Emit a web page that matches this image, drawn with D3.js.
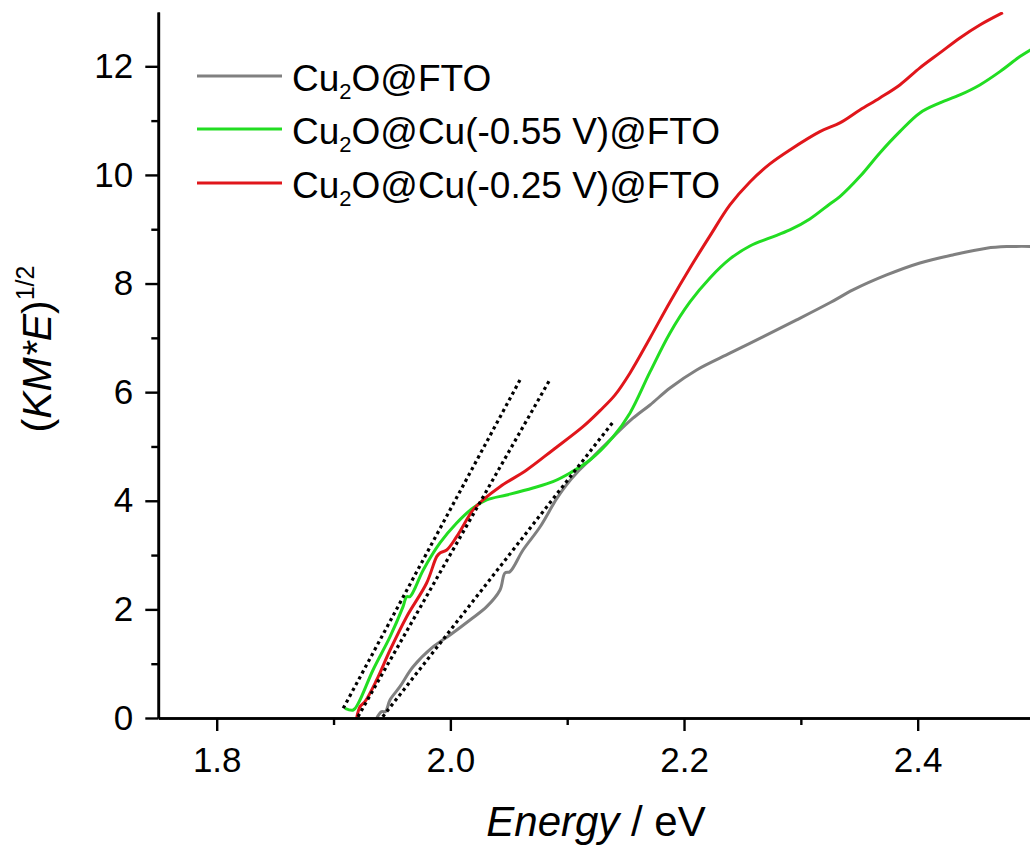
<!DOCTYPE html>
<meta charset="utf-8">
<html>
<head>
<script type="text/javascript" src="https://d3js.org/d3.v7.js"></script>
<style>
  body { margin: 0; background: #fff; }
  text { font-family: Arial, "Liberation Sans", sans-serif; fill: #000; }
</style>
</head>
<body>
<div id="plotArea"></div>
<script>
  // series names (the "2" after Cu is drawn as a subscript)
  const seriesNames = ['Cu2O@FTO', 'Cu2O@Cu(-0.55 V)@FTO', 'Cu2O@Cu(-0.25 V)@FTO']
  const seriesColors = ['#808080', '#22dd22', '#e0161b']

  // Cu2O@FTO
  const energyGray = [1.937, 1.9412, 1.9445, 1.9483, 1.9568, 1.9679, 1.9851, 1.9997, 2.0168, 2.0311, 2.0425, 2.0467, 2.0510, 2.0622, 2.0767, 2.0910, 2.0996, 2.1081, 2.1221, 2.1392, 2.1563, 2.1709, 2.1880, 2.2108, 2.2397, 2.2679, 2.2964, 2.3252, 2.3446, 2.3734, 2.4019, 2.4301, 2.4589, 2.4762, 2.4995]
  const kmGray = [0.0, 0.116, 0.12, 0.331, 0.576, 0.939, 1.308, 1.529, 1.805, 2.050, 2.357, 2.670, 2.694, 3.094, 3.517, 4.040, 4.300, 4.512, 4.807, 5.175, 5.520, 5.764, 6.077, 6.409, 6.722, 7.022, 7.330, 7.650, 7.882, 8.158, 8.379, 8.527, 8.650, 8.680, 8.683]

  // Cu2O@Cu(-0.55 V)@FTO
  const energyGreen = [1.9098, 1.9169, 1.9212, 1.9338, 1.9484, 1.9595, 1.9626, 1.9654, 1.9768, 1.9911, 2.0054, 2.0194, 2.0311, 2.0482, 2.0707, 2.0878, 2.1024, 2.1195, 2.1392, 2.1538, 2.1709, 2.1880, 2.2051, 2.2222, 2.2393, 2.2564, 2.2735, 2.2906, 2.3077, 2.3248, 2.3334, 2.3505, 2.3676, 2.3847, 2.4019, 2.4190, 2.4361, 2.4532, 2.4704, 2.4875, 2.4995]
  const kmGreen = [0.179, 0.147, 0.271, 0.884, 1.497, 2.050, 2.234, 2.234, 2.726, 3.223, 3.591, 3.867, 4.015, 4.107, 4.236, 4.352, 4.512, 4.751, 5.175, 5.617, 6.372, 7.090, 7.661, 8.103, 8.453, 8.692, 8.840, 8.987, 9.190, 9.466, 9.600, 9.969, 10.405, 10.797, 11.142, 11.326, 11.473, 11.657, 11.902, 12.179, 12.339]

  // Cu2O@Cu(-0.25 V)@FTO
  const energyRed = [1.9198, 1.9226, 1.9269, 1.9369, 1.9484, 1.9626, 1.9797, 1.9883, 1.9911, 1.9969, 2.0054, 2.0194, 2.0279, 2.0425, 2.0653, 2.0878, 2.1135, 2.1281, 2.1410, 2.1538, 2.1709, 2.1880, 2.2051, 2.2222, 2.2393, 2.2564, 2.2735, 2.2906, 2.3163, 2.3334, 2.3505, 2.3676, 2.3847, 2.4019, 2.4190, 2.4361, 2.4532, 2.4729]
  const kmRed = [0.0, 0.208, 0.300, 0.700, 1.252, 1.866, 2.486, 2.971, 3.039, 3.094, 3.339, 3.831, 4.015, 4.260, 4.567, 4.936, 5.365, 5.660, 5.950, 6.354, 6.998, 7.661, 8.287, 8.877, 9.448, 9.871, 10.203, 10.460, 10.797, 10.958, 11.197, 11.418, 11.657, 11.971, 12.247, 12.523, 12.762, 12.989]

  // dotted tangent lines (start / end)
  const tangentX1 = [1.9083, 1.9209, 1.9421]
  const tangentY1 = [0.179, 0.024, 0.024]
  const tangentX2 = [2.0596, 2.0847, 2.1395]
  const tangentY2 = [6.225, 6.212, 5.457]

  const xMajor = [1.8, 2.0, 2.2, 2.4]
  const xMinor = [1.9, 2.1, 2.3]
  const yMajor = [0, 2, 4, 6, 8, 10, 12]
  const yMinor = [1, 3, 5, 7, 9, 11]

  const W = 1030, H = 848

  const svg = d3.select('#plotArea').append('svg')
    .attr('width', W).attr('height', H)

  const xScale = d3.scaleLinear().domain([1.75, 2.5]).range([158.3, 1034.5])
  const yScale = d3.scaleLinear().domain([0, 13]).range([718, 12])

  svg.append('clipPath').attr('id', 'clip')
    .append('rect').attr('x', 158).attr('y', 12).attr('width', 880).attr('height', 706)

  // curves
  const series = [
    {x: energyGray, y: kmGray},
    {x: energyGreen, y: kmGreen},
    {x: energyRed, y: kmRed}
  ]
  const line = d3.line().x(d => xScale(d[0])).y(d => yScale(d[1])).curve(d3.curveCatmullRom.alpha(0.5))
  const plot = svg.append('g').attr('clip-path', 'url(#clip)')
  series.forEach(function(s, i) {
    plot.append('path')
      .datum(d3.zip(s.x, s.y))
      .attr('d', line)
      .attr('fill', 'none')
      .attr('stroke', seriesColors[i])
      .attr('stroke-width', 3)
      .attr('stroke-linejoin', 'round')
  })

  // tangents on top
  plot.selectAll('.tangent')
    .data(d3.range(tangentX1.length))
    .enter().append('line')
    .attr('x1', i => xScale(tangentX1[i])).attr('y1', i => yScale(tangentY1[i]))
    .attr('x2', i => xScale(tangentX2[i])).attr('y2', i => yScale(tangentY2[i]))
    .attr('stroke', '#000')
    .attr('stroke-width', 3.2)
    .attr('stroke-dasharray', '3.2,3.4')

  // axes
  function styleAxis(g) {
    g.select('.domain').attr('stroke', '#000').attr('stroke-width', 2.6)
    g.selectAll('.tick line').attr('stroke', '#000').attr('stroke-width', 2.4)
    g.selectAll('.tick text').attr('font-size', 35).attr('font-family', 'Arial, "Liberation Sans", sans-serif').attr('fill', '#000')
  }

  const xAxis = svg.append('g').attr('transform', 'translate(0,718)')
    .call(d3.axisBottom(xScale).tickValues(xMajor).tickFormat(d3.format('.1f')).tickSize(13).tickSizeOuter(0).tickPadding(16))
  styleAxis(xAxis)
  const xAxisMinor = svg.append('g').attr('transform', 'translate(0,718)')
    .call(d3.axisBottom(xScale).tickValues(xMinor).tickFormat('').tickSize(7).tickSizeOuter(0))
  styleAxis(xAxisMinor)

  const yAxis = svg.append('g').attr('transform', 'translate(158.3,0)')
    .call(d3.axisLeft(yScale).tickValues(yMajor).tickFormat(d3.format('d')).tickSize(13).tickSizeOuter(0).tickPadding(12))
  styleAxis(yAxis)
  const yAxisMinor = svg.append('g').attr('transform', 'translate(158.3,0)')
    .call(d3.axisLeft(yScale).tickValues(yMinor).tickFormat('').tickSize(7).tickSizeOuter(0))
  styleAxis(yAxisMinor)

  // axis titles
  const xTitle = svg.append('text')
    .attr('x', 596).attr('y', 836)
    .attr('text-anchor', 'middle')
    .attr('font-size', 42)
  xTitle.append('tspan').attr('font-style', 'italic').text('Energy')
  xTitle.append('tspan').text(' / eV')

  const yTitle = svg.append('text')
    .attr('transform', 'translate(51,349) rotate(-90)')
    .attr('text-anchor', 'middle')
    .attr('font-size', 41)
  yTitle.append('tspan').text('(')
  yTitle.append('tspan').attr('font-style', 'italic').text('KM*E')
  yTitle.append('tspan').text(')')
  yTitle.append('tspan').attr('font-size', 25).attr('dy', -17).text('1/2')

  // legend
  const rowY = [76, 129, 183]
  const legend = svg.append('g')
  seriesNames.forEach(function(name, i) {
    legend.append('line')
      .attr('x1', 197).attr('x2', 282)
      .attr('y1', rowY[i]).attr('y2', rowY[i])
      .attr('stroke', seriesColors[i]).attr('stroke-width', 3)
    const t = legend.append('text')
      .attr('x', 292).attr('y', rowY[i] + 15)
      .attr('font-size', 37)
    t.append('tspan').text('Cu')
    t.append('tspan').attr('font-size', 22).attr('dy', 8).text('2')
    t.append('tspan').attr('dy', -8).text(name.replace('Cu2', ''))
  })
</script>
</body>
</html>
